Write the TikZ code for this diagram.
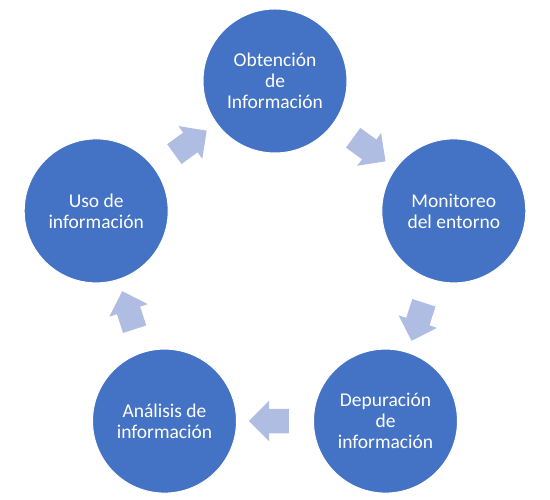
\documentclass[tikz,border=0pt]{standalone}
\usepackage{fontspec}
\setmainfont{Carlito}
\usetikzlibrary{shapes.arrows,calc}
\definecolor{azulcirc}{RGB}{68,114,196}
\definecolor{azulflecha}{RGB}{176,189,226}

\begin{document}
\begin{tikzpicture}[x=1pt,y=1pt]
	
	% --- parámetros ---
	\newcommand{\Radio}{188}
	\newcommand{\Cx}{275}
	\newcommand{\Cy}{231}
	
	% --- lista (i / texto) ---
	\def\etapas{1/{Obtención\\de\\Información}, 2/{Monitoreo\\del entorno},
		3/{Depuración\\de\\información}, 4/{Análisis de\\información},
		5/{Uso de\\información}}
	
	% estilos
	\tikzset{
		etapa/.style  = {circle, fill=azulcirc, draw=white, line width=1pt,
			minimum size=144pt, inner sep=0pt, text=white, align=center,
			font=\fontsize{19.5}{21}\selectfont},
		flecha/.style = {single arrow, fill=azulflecha, draw=none,
			minimum height=40pt, inner xsep=0pt, inner ysep=12pt,
			single arrow head extend=8pt},
	}
	
	\useasboundingbox (0,0) rectangle (550,500);
	
	% círculos del ciclo
	\foreach \i/\txt in \etapas {
		\node[etapa] (e\i) at ($(\Cx,\Cy)+({162-72*\i}:\Radio)$) {\txt};
	}
	
	% flechas entre etapas
	\foreach \i/\j in {1/2,2/3,3/4,4/5,5/1} {
		\node[flecha, rotate={36-72*\i}] (f\i) at ($(e\i)!0.5!(e\j)$) {};
	}
	
\end{tikzpicture}
\end{document}
